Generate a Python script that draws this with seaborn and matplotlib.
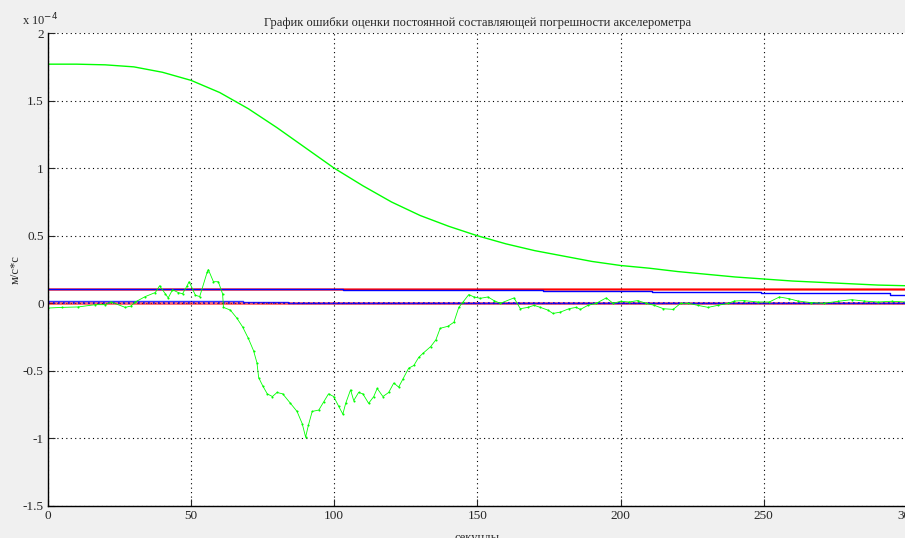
import numpy as np
import pandas as pd
import seaborn as sns
import matplotlib.pyplot as plt

# values in units of 1e-4 m/s^2
t_sigma = [0, 10, 20, 30, 40, 50, 60, 70, 80, 90, 100, 110, 120, 130, 140, 150,
           160, 170, 180, 190, 200, 210, 220, 230, 240, 250, 260, 270, 280, 290, 300]
sigma = [1.77, 1.77, 1.765, 1.75, 1.71, 1.65, 1.56, 1.44, 1.30, 1.15, 1.00, 0.87,
         0.75, 0.65, 0.57, 0.50, 0.44, 0.39, 0.35, 0.31, 0.28, 0.26, 0.235, 0.215,
         0.195, 0.18, 0.165, 0.155, 0.145, 0.135, 0.13]

t_err = [0, 5, 10.5, 16.5, 20, 22, 27, 29, 30.5, 34, 37.5, 39, 41, 42, 43.5, 45.5,
         47, 48.6, 49.3, 51.5, 53, 55.6, 56, 57.8, 59.5, 61, 61.3, 63.7, 66, 68,
         70, 71.8, 73, 73.6, 75, 76.6, 78.4, 80, 82, 84.7, 87, 88.8, 90, 91, 92.3,
         94.6, 96.3, 98, 99.8, 101.5, 103, 104, 105.7, 106.8, 108.5, 110, 112,
         113.8, 115, 117, 119, 120.8, 122.5, 124, 126, 127.8, 129.5, 131, 133.7,
         135.5, 137, 139.7, 141.8, 143.5, 145, 147, 148.8, 151, 153.7, 155.8, 158,
         162.8, 165, 167.6, 169.8, 172, 174.6, 176.4, 179, 182, 184.5, 186, 188.6,
         191.5, 195, 197.4, 200, 203, 206, 209, 211.8, 215, 218.4, 221, 223.7, 227,
         230.6, 234, 237.6, 239.8, 243, 248, 252, 255.5, 258.7, 262, 266.7, 271,
         276, 280.7, 285, 290, 294.7, 300]
err = [-0.035, -0.03, -0.027, -0.01, -0.01, 0.01, -0.03, -0.02, 0.01, 0.05, 0.08,
       0.13, 0.07, 0.04, 0.10, 0.08, 0.07, 0.13, 0.16, 0.06, 0.05, 0.23, 0.25,
       0.16, 0.16, 0.07, -0.03, -0.05, -0.11, -0.175, -0.26, -0.35, -0.44, -0.55,
       -0.61, -0.67, -0.69, -0.66, -0.67, -0.74, -0.80, -0.89, -0.99, -0.90, -0.80,
       -0.79, -0.73, -0.67, -0.69, -0.76, -0.82, -0.74, -0.64, -0.72, -0.66, -0.67,
       -0.74, -0.69, -0.63, -0.69, -0.66, -0.59, -0.62, -0.56, -0.48, -0.46, -0.40,
       -0.37, -0.32, -0.27, -0.185, -0.17, -0.14, -0.03, 0.01, 0.065, 0.047, 0.037,
       0.047, 0.02, 0.0, 0.04, -0.04, -0.03, -0.015, -0.03, -0.05, -0.075, -0.065,
       -0.04, -0.03, -0.045, -0.015, 0.0, 0.04, 0.0, 0.015, 0.01, 0.02, 0.0, -0.015,
       -0.04, -0.045, 0.0, 0.0, -0.015, -0.03, -0.015, 0.0, 0.017, 0.02, 0.01, 0.01,
       0.047, 0.035, 0.017, 0.005, 0.0, 0.015, 0.027, 0.017, 0.01, 0.015, 0.01]

t_red = [0, 300]
red_top = [0.109, 0.109]
red_zero = [0.003, 0.003]

t_blue = [0, 103, 103, 173, 173, 211, 211, 249, 249, 294, 294, 300]
blue_top = [0.104, 0.104, 0.100, 0.100, 0.091, 0.091, 0.083, 0.083, 0.073, 0.073,
            0.063, 0.063]
t_blue0 = [0, 68, 68, 84, 84, 300]
blue_zero = [0.017, 0.017, 0.012, 0.012, 0.005, 0.005]

sns.set_style("white")
plt.rcParams['font.family'] = ['Liberation Serif', 'DejaVu Serif']

fig = plt.figure(figsize=(9.05, 5.38), dpi=100, facecolor='#f0f0f0')
ax = fig.add_axes([0.053, 0.0595, 0.949, 0.879])
ax.set_facecolor('white')

sns.lineplot(x=t_sigma, y=sigma, ax=ax, color='#00ff00', lw=1, sort=False, estimator=None)
sns.lineplot(x=t_red, y=red_top, ax=ax, color='#ff0000', lw=2, alpha=0.55, sort=False, estimator=None)
sns.lineplot(x=t_red, y=red_top, ax=ax, color='#ff0000', lw=1, sort=False, estimator=None)
sns.lineplot(x=t_blue, y=blue_top, ax=ax, color='#0000ff', lw=1, sort=False, estimator=None)
sns.lineplot(x=t_red, y=red_zero, ax=ax, color='#ff0000', lw=2, alpha=0.6, sort=False, estimator=None)
sns.lineplot(x=t_blue0, y=blue_zero, ax=ax, color='#0000ff', lw=1, alpha=0.8, sort=False, estimator=None)
sns.lineplot(x=[0, 300], y=[0, 0], ax=ax, color='#0000ff', lw=1.2, ls=(0, (1, 2)), sort=False, estimator=None)
sns.lineplot(x=t_err, y=err, ax=ax, color='#00ff00', lw=0.6, marker='.', ms=3,
             markeredgewidth=0, sort=False, estimator=None)

ax.set_xlim(0, 300)
ax.set_ylim(-1.5, 2)
ax.set_xticks(np.arange(0, 301, 50))
ax.set_yticks(np.arange(-1.5, 2.01, 0.5))
ax.set_xticklabels(['0', '50', '100', '150', '200', '250', '300'])
ax.set_yticklabels(['-1.5', '-1', '-0.5', '0', '0.5', '1', '1.5', '2'])
ax.tick_params(direction='in', length=5, width=0.8, labelsize=9.5, pad=3,
               left=True, bottom=True)
ax.grid(True, color='black', ls=(0, (1, 3)), lw=0.8)
for s in ['top', 'right']:
    ax.spines[s].set_visible(False)
for s in ['left', 'bottom']:
    ax.spines[s].set_color('black')
    ax.spines[s].set_linewidth(1)
ax.set_axisbelow(True)

ax.set_title('График ошибки оценки постоянной составляющей погрешности акселерометра',
             fontsize=9, pad=5)
ax.set_ylabel('м/с*с', fontsize=9, labelpad=1)
ax.set_xlabel('секунды', fontsize=9, labelpad=7)
fig.text(0.024, 0.953, 'x 10$^{-4}$', fontsize=9)

fig.savefig('out.png', dpi=100, facecolor=fig.get_facecolor())
